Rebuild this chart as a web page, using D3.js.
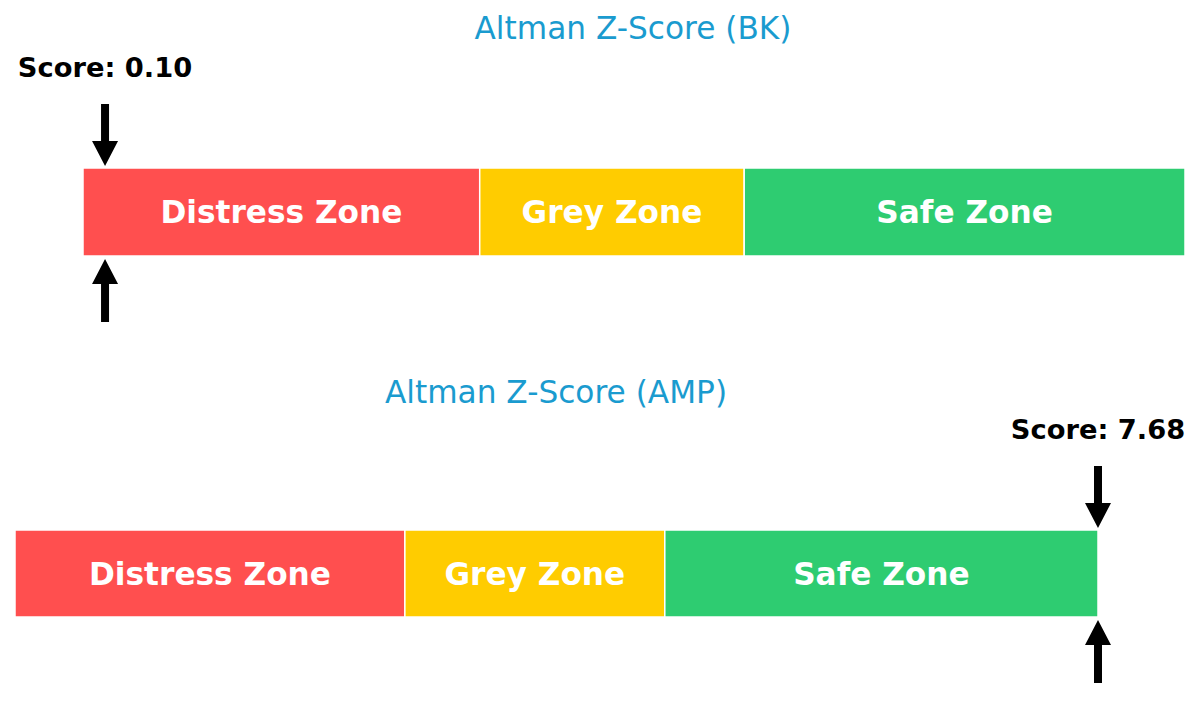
<!DOCTYPE html>
<html>
<head>
<meta charset="utf-8">
<script src="https://cdn.jsdelivr.net/npm/d3@7"></script>
<style>
  html, body { margin: 0; padding: 0; background: #ffffff; }
  svg { display: block; }
</style>
</head>
<body>
<div id="chart"></div>
<script>
// ---- data ----
const tickers = ["BK", "AMP"];
const scores = [0.10, 7.68];
const zoneNames = ["Distress Zone", "Grey Zone", "Safe Zone"];
const zoneStarts = [0, 1.8, 3.0];
const zoneEnds = [1.8, 3.0, 5.0];
const zoneColors = ["#ff4f4f", "#ffcc00", "#2ecc71"];
const scaleMax = 5.0;

// ---- layout ----
const W = 1200, H = 724;
const panels = [
  { range: [83, 1185], barTop: 168, barH: 88, titleX: 633, titleY: 39 },
  { range: [15, 1098], barTop: 530, barH: 87, titleX: 556, titleY: 403 }
];
const font = "'DejaVu Sans', Verdana, sans-serif";

const svg = d3.select("#chart").append("svg")
  .attr("width", W).attr("height", H);

function arrowPath(x, tipY, tailY) {
  const dir = tipY > tailY ? 1 : -1;
  const headLen = 25, headHalf = 13, shaftHalf = 4;
  const baseY = tipY - dir * headLen;
  return [
    [x - shaftHalf, tailY], [x + shaftHalf, tailY],
    [x + shaftHalf, baseY], [x + headHalf, baseY],
    [x, tipY],
    [x - headHalf, baseY], [x - shaftHalf, baseY]
  ];
}

tickers.forEach((tk, i) => {
  const p = panels[i];
  const g = svg.append("g");
  const x = d3.scaleLinear().domain([0, scaleMax]).range(p.range);

  g.append("text")
    .attr("x", p.titleX).attr("y", p.titleY)
    .attr("text-anchor", "middle")
    .attr("font-family", font).attr("font-size", 31.2)
    .attr("fill", "#1a9bcf")
    .text(`Altman Z-Score (${tk})`);

  const zones = zoneNames.map((n, j) => ({ name: n, s: zoneStarts[j], e: zoneEnds[j], c: zoneColors[j] }));

  g.selectAll("rect.zone").data(zones).enter().append("rect")
    .attr("class", "zone")
    .attr("x", d => x(d.s)).attr("y", p.barTop)
    .attr("width", d => x(d.e) - x(d.s)).attr("height", p.barH)
    .attr("fill", d => d.c)
    .attr("stroke", "#ffffff").attr("stroke-width", 1.5);

  g.selectAll("text.zone").data(zones).enter().append("text")
    .attr("class", "zone")
    .attr("x", d => (x(d.s) + x(d.e)) / 2)
    .attr("y", p.barTop + p.barH / 2)
    .attr("text-anchor", "middle")
    .attr("dy", "0.36em")
    .attr("font-family", font).attr("font-size", 31.2).attr("font-weight", "bold")
    .attr("fill", "#ffffff")
    .text(d => d.name);

  const ax = x(Math.min(Math.max(scores[i], 0), scaleMax));
  const T = p.barTop;

  g.append("text")
    .attr("x", ax).attr("y", T - 91)
    .attr("text-anchor", "middle")
    .attr("font-family", font).attr("font-size", 27.3).attr("font-weight", "bold")
    .attr("fill", "#000000")
    .text(`Score: ${scores[i].toFixed(2)}`);

  const line = d3.line();
  g.append("path").attr("d", line(arrowPath(ax, T - 2, T - 64)) + "Z").attr("fill", "#000");
  g.append("path").attr("d", line(arrowPath(ax, T + p.barH + 3, T + p.barH + 66)) + "Z").attr("fill", "#000");
});
</script>
</body>
</html>
